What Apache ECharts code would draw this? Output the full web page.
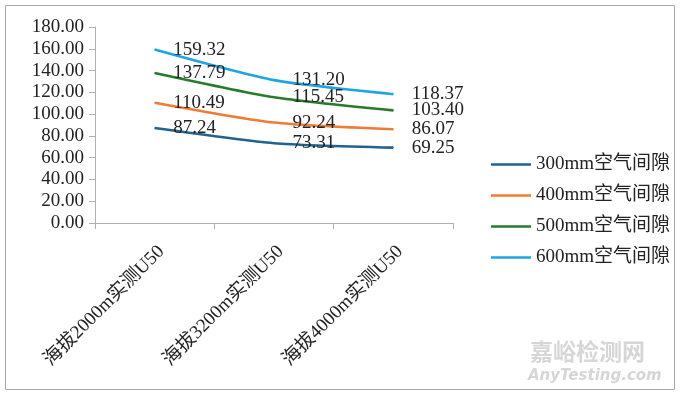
<!DOCTYPE html>
<html><head><meta charset="utf-8">
<script src="https://cdn.jsdelivr.net/npm/echarts@6/dist/echarts.min.js"></script>
<style>html,body{margin:0;padding:0;background:#fff}#c{width:680px;height:397px}</style>
</head><body><div id="c"></div>
<script>
const categories = ['海拔2000m实测U50', '海拔3200m实测U50', '海拔4000m实测U50'];
const seriesNames = ['300mm空气间隙', '400mm空气间隙', '500mm空气间隙', '600mm空气间隙'];
const gap300 = [87.24, 73.31, 69.25];
const gap400 = [110.49, 92.24, 86.07];
const gap500 = [137.79, 115.45, 103.40];
const gap600 = [159.32, 131.20, 118.37];
const colors = ['#23628f', '#ef7b36', '#2a7a2d', '#1ea5e1'];
const FONT = '"Liberation Serif", "Noto Sans CJK SC", serif';

const chart = echarts.init(document.getElementById('c'));
const allData = [gap300, gap400, gap500, gap600];
chart.setOption({
  animation: false,
  grid: { left: 95, right: 227, top: 27, bottom: 174 },
  legend: {
    orient: 'vertical', left: 486, top: 150, itemGap: 12,
    itemWidth: 40, itemHeight: 20,
    icon: 'path://M0,9L40,9L40,11.5L0,11.5Z',
    textStyle: { fontFamily: FONT, fontSize: 19, color: '#222' },
    data: seriesNames
  },
  xAxis: {
    type: 'category', data: categories, boundaryGap: true,
    axisLine: { lineStyle: { color: '#b0b0b0' } },
    axisTick: { show: true, length: 6, lineStyle: { color: '#b0b0b0' } },
    axisLabel: { rotate: 45, fontFamily: FONT, fontSize: 19, color: '#222', margin: 19, verticalAlign: 'top' }
  },
  yAxis: {
    type: 'value', min: 0, max: 180, interval: 20,
    axisLine: { show: true, lineStyle: { color: '#b0b0b0' } },
    axisTick: { show: true, length: 6, lineStyle: { color: '#b0b0b0' } },
    splitLine: { show: false },
    axisLabel: { fontFamily: FONT, fontSize: 19, color: '#222', margin: 11,
      formatter: v => v.toFixed(2) }
  },
  series: allData.map((d, i) => ({
    name: seriesNames[i], type: 'line', data: d, smooth: 0.22,
    symbol: 'circle', symbolSize: 1, showSymbol: true,
    itemStyle: { color: colors[i] },
    lineStyle: { width: 2.6, color: colors[i] }, color: colors[i],
    labelLayout: { hideOverlap: false },
    label: { show: true, position: 'right', distance: 18,
      fontFamily: FONT, fontSize: 19, color: '#222',
      formatter: p => p.value.toFixed(2) }
  })),
  graphic: [
    { type: 'rect', shape: { x: 5.5, y: 5.5, width: 669, height: 384 },
      style: { fill: 'none', stroke: '#a6a6a6', lineWidth: 1 }, silent: true },
    { type: 'text', left: 530, top: 340,
      style: { text: '嘉峪检测网', fontFamily: '"Noto Sans CJK SC"', fontWeight: 'bold', fontSize: 23, fill: '#d6d6d6' } },
    { type: 'text', left: 528, top: 369,
      style: { text: 'AnyTesting.com', fontFamily: '"DejaVu Sans"', fontStyle: 'italic', fontWeight: 'bold', fontSize: 15, fill: '#d6d6d6' } }
  ]
});
</script></body></html>
